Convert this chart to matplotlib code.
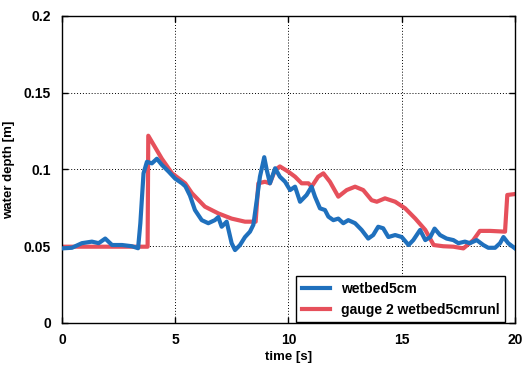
import matplotlib
matplotlib.use("Agg")
import matplotlib.pyplot as plt

plt.rcParams['font.family'] = ['Liberation Sans', 'DejaVu Sans']
plt.rcParams['font.weight'] = 'bold'

# wetbed5cm measurement
t_wet = [0.0, 0.44, 0.88, 1.32, 1.62, 1.91, 2.21, 2.65, 3.09, 3.36, 3.46, 3.60,
         3.75, 3.97, 4.19, 4.41, 4.71, 5.00, 5.30, 5.45, 5.65, 5.87, 6.17, 6.46,
         6.75, 6.90, 7.05, 7.27, 7.49, 7.64, 7.86, 8.08, 8.30, 8.45, 8.60, 8.74,
         8.93, 9.04, 9.18, 9.41, 9.62, 9.85, 10.07, 10.29, 10.51, 10.80, 11.02,
         11.17, 11.39, 11.61, 11.76, 11.98, 12.20, 12.42, 12.64, 12.94, 13.23,
         13.52, 13.74, 13.96, 14.18, 14.41, 14.71, 15.00, 15.30, 15.51, 15.81,
         16.04, 16.26, 16.45, 16.69, 16.98, 17.28, 17.50, 17.79, 18.01, 18.31,
         18.60, 18.82, 19.12, 19.34, 19.49, 19.70, 20.0]
d_wet = [0.0486, 0.049, 0.052, 0.053, 0.052, 0.055, 0.0508, 0.0508, 0.050, 0.0487,
         0.065, 0.0975, 0.105, 0.104, 0.107, 0.103, 0.0986, 0.094, 0.091, 0.089,
         0.083, 0.0736, 0.067, 0.065, 0.067, 0.069, 0.0627, 0.066, 0.052, 0.0475,
         0.0508, 0.056, 0.0595, 0.064, 0.080, 0.0953, 0.108, 0.0997, 0.091, 0.1008,
         0.0953, 0.092, 0.0866, 0.0888, 0.079, 0.0834, 0.0888, 0.0823, 0.0747,
         0.0736, 0.0693, 0.067, 0.068, 0.065, 0.067, 0.065, 0.0606, 0.055, 0.0573,
         0.0627, 0.0617, 0.056, 0.0573, 0.056, 0.0508, 0.054, 0.0606, 0.054, 0.056,
         0.0615, 0.0573, 0.055, 0.054, 0.052, 0.053, 0.052, 0.054, 0.0508, 0.049,
         0.049, 0.052, 0.056, 0.052, 0.0486]

# gauge 2 model run
t_gauge = [0.0, 3.78, 3.81, 4.41, 4.86, 5.44, 5.74, 6.31, 6.90, 7.49, 8.08, 8.55,
           8.67, 8.96, 9.18, 9.41, 9.62, 9.99, 10.29, 10.58, 10.88, 11.02, 11.31,
           11.54, 11.83, 12.20, 12.57, 12.94, 13.30, 13.67, 13.90, 14.26, 14.71,
           15.15, 15.60, 16.04, 16.41, 16.83, 17.28, 17.72, 18.16, 18.45, 18.90,
           19.56, 19.66, 20.0]
d_gauge = [0.0497, 0.0497, 0.122, 0.107, 0.0975, 0.091, 0.0845, 0.0758, 0.0714,
           0.068, 0.066, 0.066, 0.091, 0.092, 0.091, 0.0997, 0.102, 0.0986, 0.0953,
           0.091, 0.091, 0.0888, 0.0953, 0.0975, 0.092, 0.0823, 0.0866, 0.0888,
           0.0866, 0.080, 0.079, 0.0812, 0.079, 0.0747, 0.068, 0.0606, 0.0508,
           0.050, 0.0497, 0.0486, 0.054, 0.060, 0.060, 0.0595, 0.0834, 0.084]

x_ticks = [0, 5, 10, 15, 20]
y_ticks = [0, 0.05, 0.1, 0.15, 0.2]
y_tick_labels = ['0', '0.05', '0.1', '0.15', '0.2']

fig = plt.figure(figsize=(5.23, 3.71), dpi=100)
ax = fig.add_axes([0.1185, 0.1294, 0.8662, 0.8275])

ax.plot(t_wet, d_wet, color='#1f70bd', lw=3.0, label='wetbed5cm', zorder=3)
ax.plot(t_gauge, d_gauge, color='#e6505b', lw=3.0, label='gauge 2 wetbed5cmrunl', zorder=2)

ax.set_xlim(0, 20)
ax.set_ylim(0, 0.2)
ax.set_xticks(x_ticks)
ax.set_xticklabels([str(v) for v in x_ticks])
ax.set_yticks(y_ticks)
ax.set_yticklabels(y_tick_labels)

ax.grid(True, color='black', linestyle=(0, (1, 2)), linewidth=0.7)
ax.tick_params(direction='in', top=True, right=True, length=4, width=1,
               labelsize=10)
ax.tick_params(axis='y', pad=8)
ax.tick_params(axis='x', pad=7)
for s in ax.spines.values():
    s.set_linewidth(1.0)

ax.set_xlabel('time [s]', fontsize=9.5, fontweight='bold', labelpad=3)
ax.set_ylabel('water depth [m]', fontsize=9.5, fontweight='bold', labelpad=6)

leg = ax.legend(loc='lower right', bbox_to_anchor=(0.978, 0.003),
                borderaxespad=0, fancybox=False, framealpha=1,
                edgecolor='black', fontsize=10, handlelength=2.0,
                prop={'weight': 'bold', 'size': 10})
leg.get_frame().set_linewidth(1.0)

fig.savefig('out.png', dpi=100)
